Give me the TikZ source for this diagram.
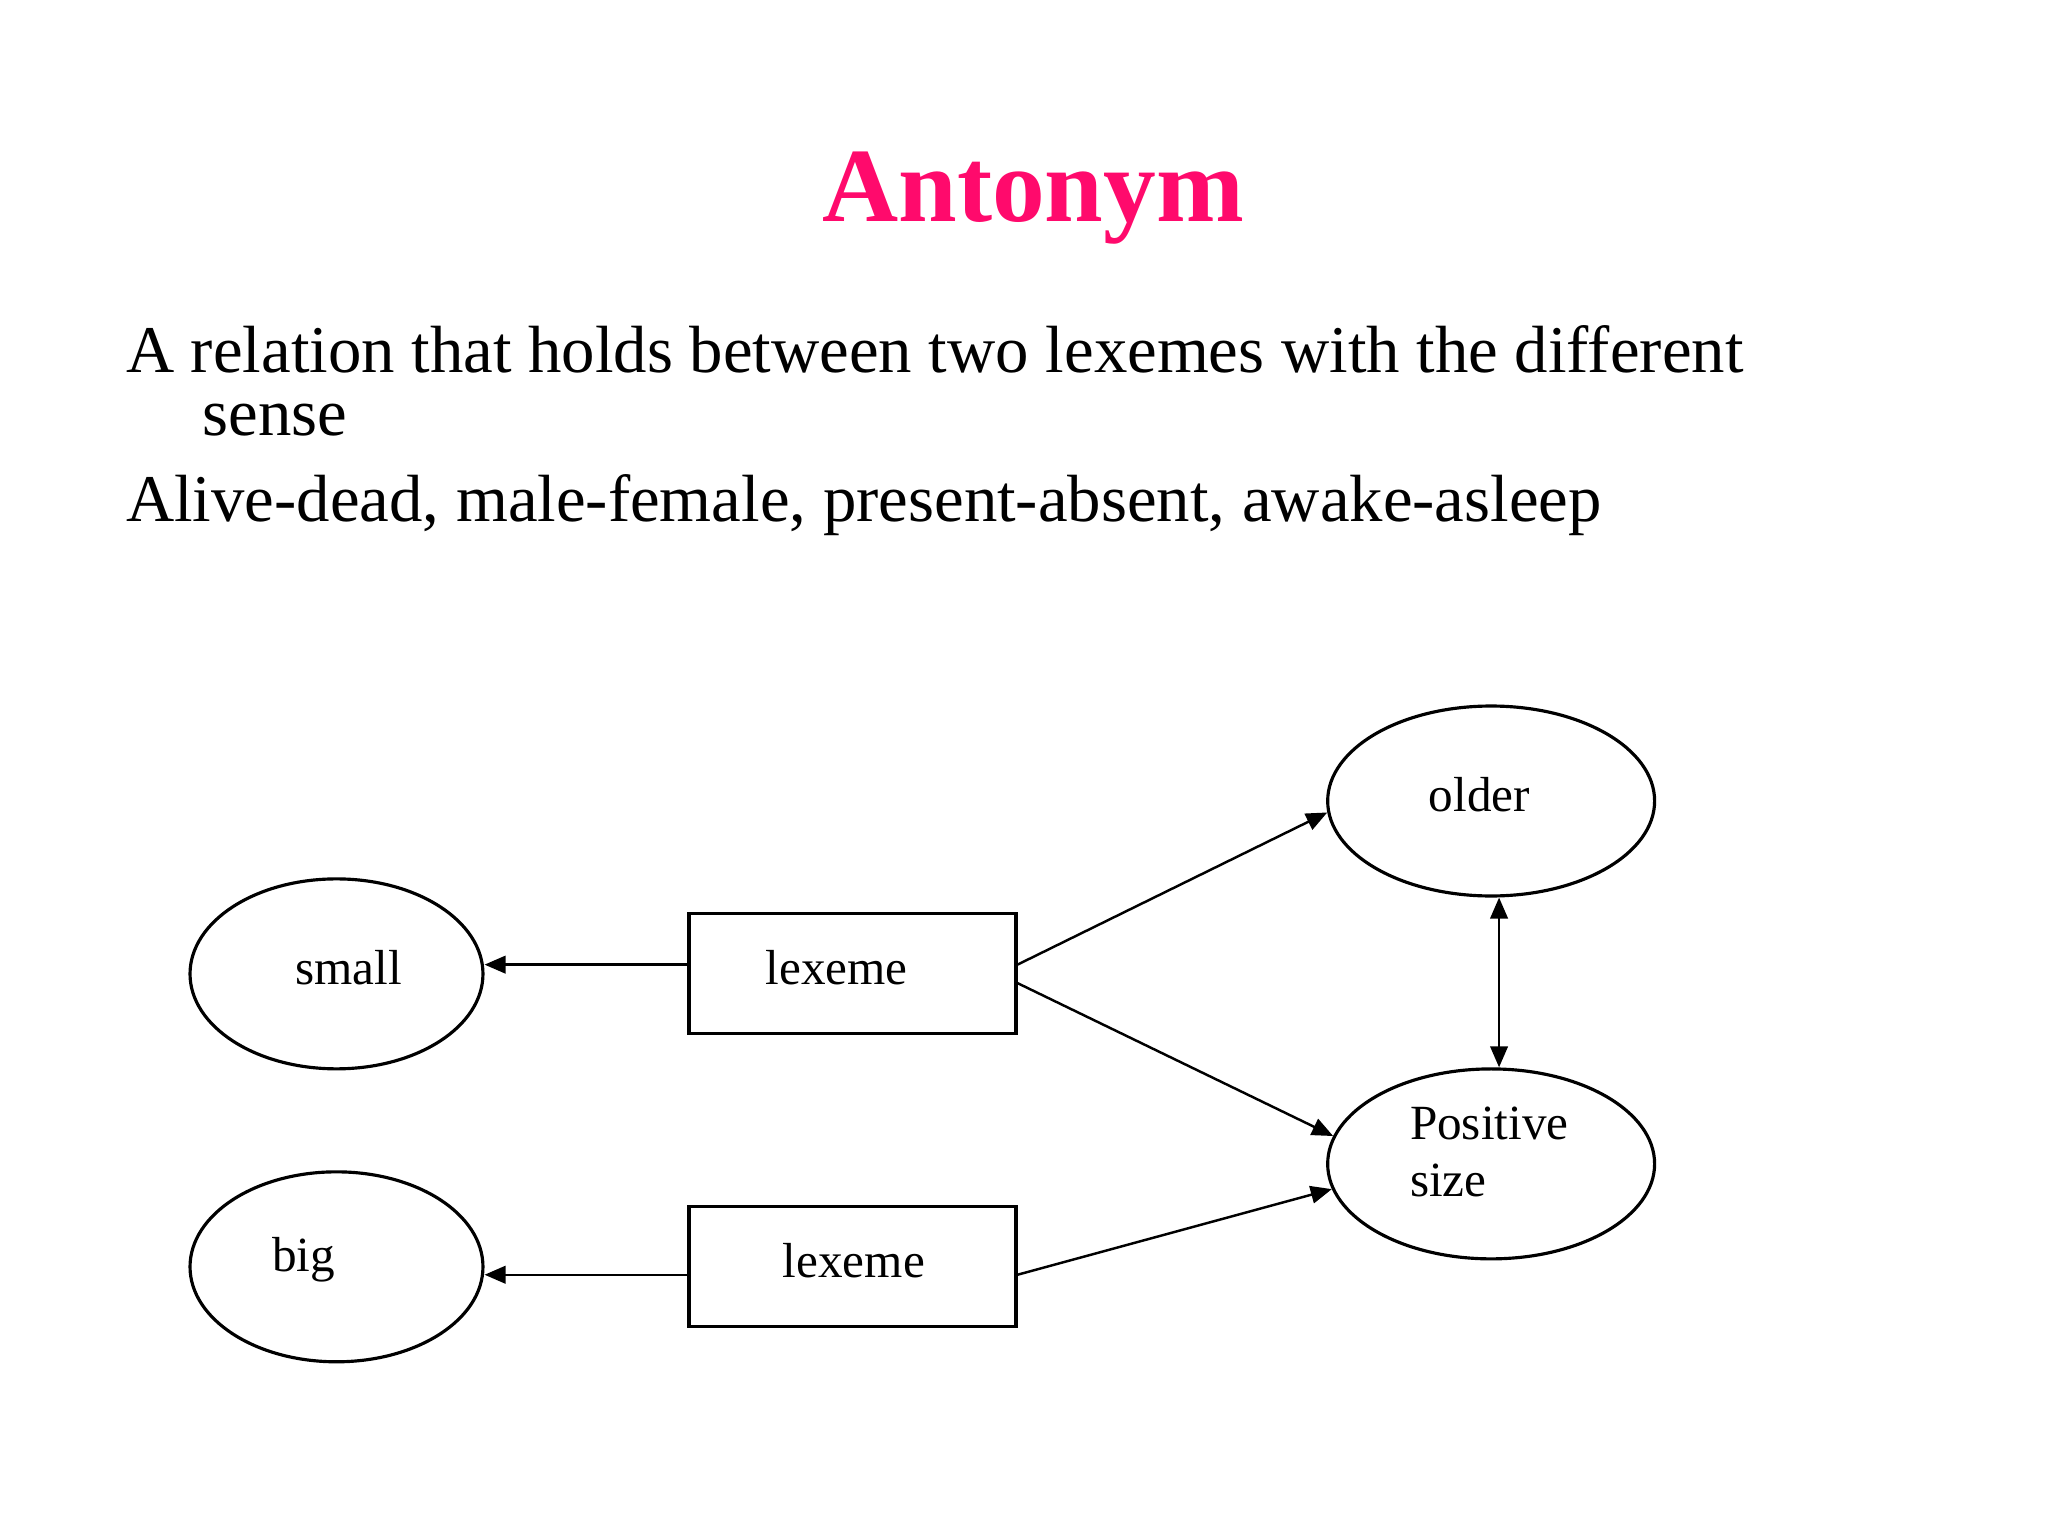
\documentclass[tikz,border=0pt]{standalone}
\usepackage{fontspec}
\setmainfont{Liberation Serif}
\usetikzlibrary{arrows.meta,calc,shapes.geometric}
\definecolor{titlecol}{HTML}{FF0A6C}
\begin{document}
\begin{tikzpicture}[x=0.0132cm,y=-0.0132cm,
  ell/.style={draw,ellipse,line width=0.9pt,minimum width=222\pgflinewidth*0+2.93cm,minimum height=1.9cm},
  bigell/.style={draw,ellipse,line width=0.9pt,minimum width=3.27cm,minimum height=1.9cm},
  box/.style={draw,rectangle,line width=0.9pt,minimum width=3.27cm,minimum height=1.2cm},
  lbl/.style={font=\fontsize{14}{16}\selectfont,inner sep=0pt},
  body/.style={font=\fontsize{19}{22}\selectfont,anchor=base west,inner sep=0pt},
  arr/.style={-{Triangle[length=6pt,width=5pt]},line width=0.7pt},
  darr/.style={{Triangle[length=6pt,width=5pt]}-{Triangle[length=6pt,width=5pt]},line width=0.7pt}]
\useasboundingbox (0,0) rectangle (1552,1164);
\node[font=\fontsize{30}{34}\selectfont\bfseries,text=titlecol] (title) at (783,150) {Antonym};
\node[body] (t1) at (95,282) {A relation that holds between two lexemes with the different};
\node[body] (t2) at (153,330) {sense};
\node[body] (t3) at (95,395) {Alive-dead, male-female, present-absent, awake-asleep};

\node[ell] (small) at (255,738) {};
\node[ell] (big) at (255,960) {};
\node[box] (l1) at (646,737.5) {};
\node[box] (l2) at (646,959.5) {};
\node[bigell] (older) at (1130,607) {};
\node[bigell] (pos) at (1130,882) {};

\node[lbl] (tsmall) at (264,733) {small};
\node[lbl] (tbig) at (230,955) {big};
\node[lbl] (tl1) at (634,733) {lexeme};
\node[lbl] (tl2) at (647,955) {lexeme};
\node[lbl] (told) at (1121,602) {older};
\node[lbl,align=left,anchor=west] (tpos) at (1068,873) {Positive\\size};

\draw[arr] ($(l1.west)+(0,-6.5)$) -- ($(l1.west -| small.east)+(0,-6.5)$);
\draw[arr] ($(l2.west)+(0,6.5)$) -- ($(l2.west -| big.east)+(0,6.5)$);
\draw[arr] ($(l1.east)+(0,-6.5)$) -- (older.184);
\draw[arr] ($(l1.east)+(0,7.5)$) -- (pos.170);
\draw[arr] ($(l2.east)+(0,6.5)$) -- (pos.189);
\draw[darr] ($(older.south)+(6,0)$) -- ($(pos.north)+(6,0)$);
\end{tikzpicture}
\end{document}
